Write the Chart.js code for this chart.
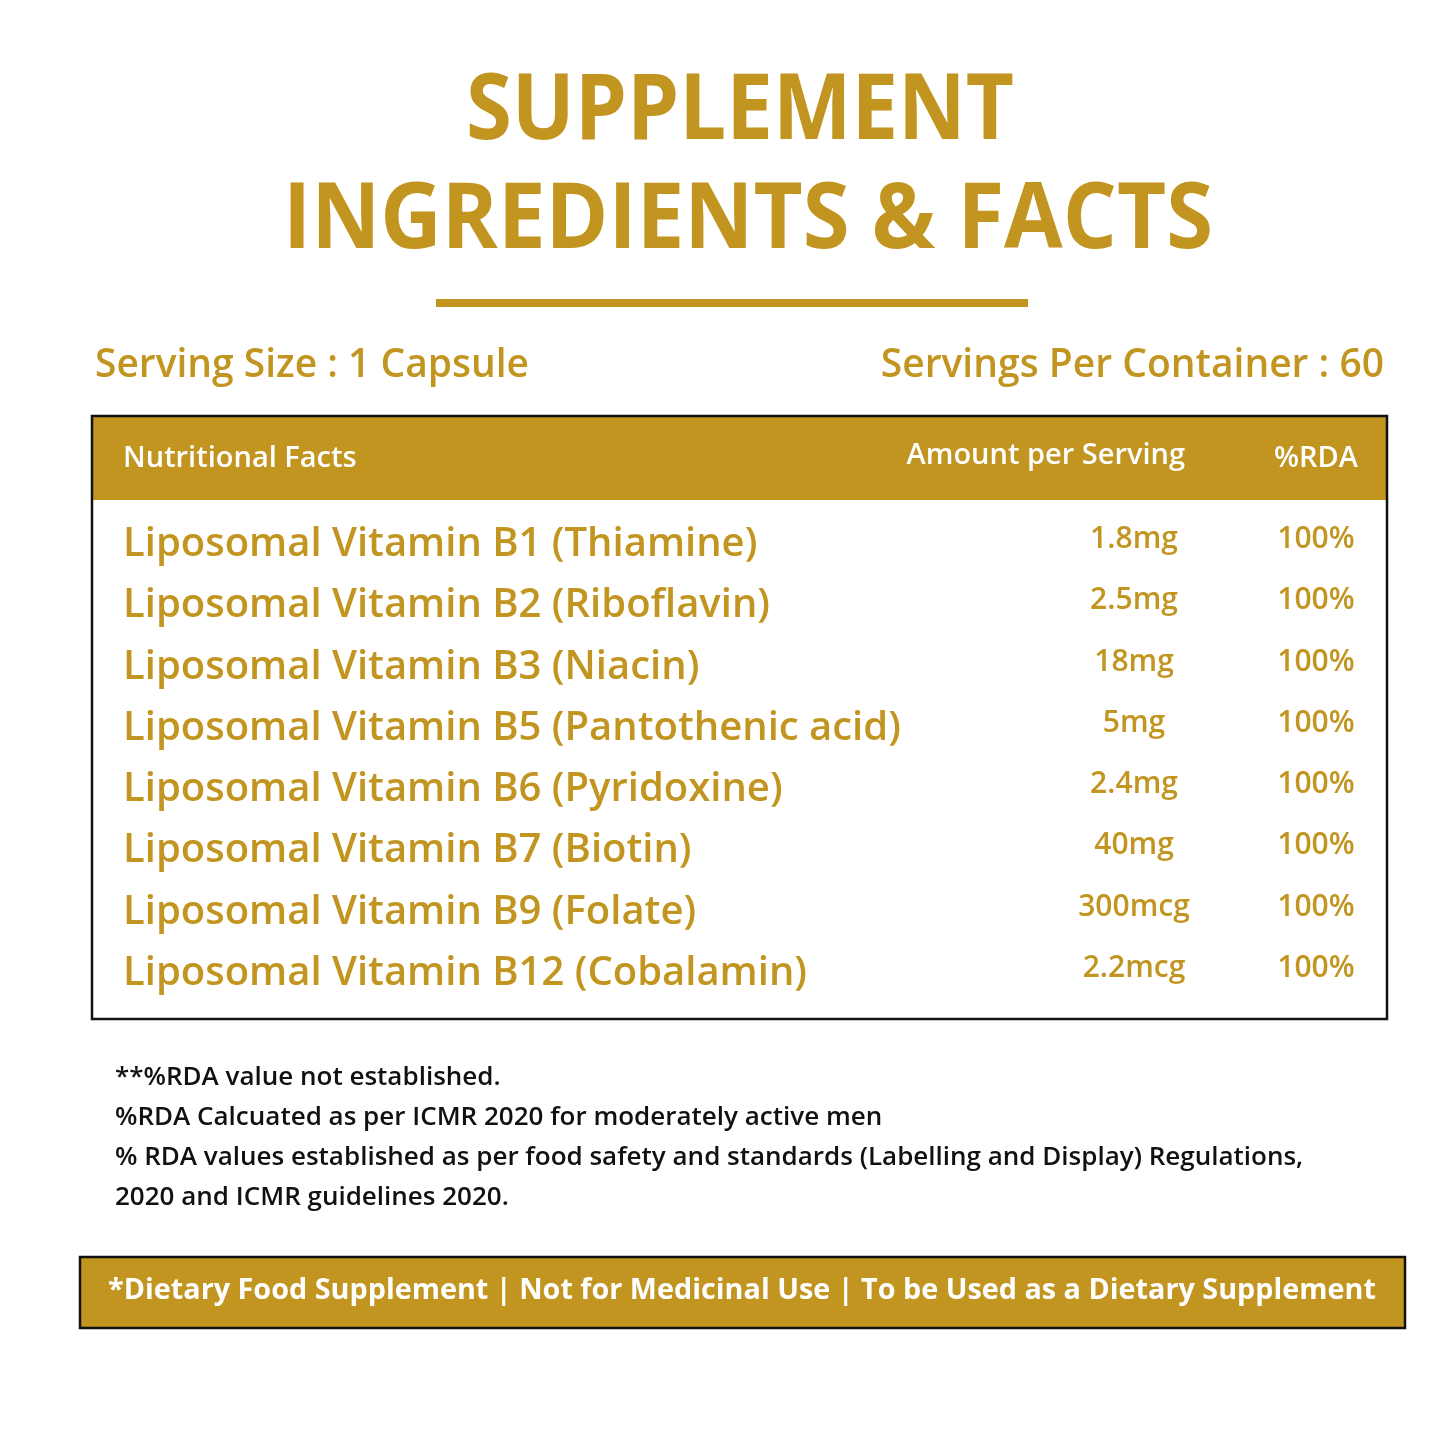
<!DOCTYPE html>
<html>
<head>
<meta charset="utf-8">
<script src="https://cdn.jsdelivr.net/npm/chart.js@4"></script>
<style>
  html, body { margin: 0; padding: 0; background: #fff; }
  #wrap { width: 1445px; height: 1445px; position: relative; }
</style>
</head>
<body>
<div id="wrap"><canvas id="miGrafico"></canvas></div>
<script>
const ingredientes = [
  'Liposomal Vitamin B1 (Thiamine)',
  'Liposomal Vitamin B2 (Riboflavin)',
  'Liposomal Vitamin B3 (Niacin)',
  'Liposomal Vitamin B5 (Pantothenic acid)',
  'Liposomal Vitamin B6 (Pyridoxine)',
  'Liposomal Vitamin B7 (Biotin)',
  'Liposomal Vitamin B9 (Folate)',
  'Liposomal Vitamin B12 (Cobalamin)'
];
const cantidades = ['1.8mg', '2.5mg', '18mg', '5mg', '2.4mg', '40mg', '300mcg', '2.2mcg'];
const rda = [100, 100, 100, 100, 100, 100, 100, 100];
const notas = [
  '**%RDA value not established.',
  '%RDA Calcuated as per ICMR 2020 for moderately active men',
  '% RDA values established as per food safety and standards (Labelling and Display) Regulations,',
  '2020 and ICMR guidelines 2020.'
];

const ORO = '#C1951F';
const FUENTE = '"Open Sans", Lato, sans-serif';

const etiqueta = {
  id: 'etiqueta',
  afterDraw(chart) {
    const c = chart.ctx;
    const y = chart.scales.y;
    c.save();
    c.textBaseline = 'middle';

    // titulo
    c.fillStyle = ORO;
    c.textAlign = 'center';
    c.font = '700 92px ' + FUENTE;
    c.fillText('SUPPLEMENT', 740, 113, 548);
    c.fillText('INGREDIENTS & FACTS', 748, 222, 930);
    c.fillRect(436, 299, 592, 8);

    // porciones
    c.font = '600 39px ' + FUENTE;
    c.textAlign = 'left';
    c.fillText('Serving Size : 1 Capsule', 95, 366, 434);
    c.textAlign = 'right';
    c.fillText('Servings Per Container : 60', 1384, 366, 514);

    // cabecera
    c.fillStyle = ORO;
    c.fillRect(92, 416, 1295, 84);
    c.fillStyle = '#fff';
    c.font = '600 29px ' + FUENTE;
    c.textAlign = 'left';
    c.fillText('Nutritional Facts', 123, 459, 255);
    c.textAlign = 'right';
    c.fillText('Amount per Serving', 1185, 456, 310);
    c.fillText('%RDA', 1358, 459, 86);

    // filas
    ingredientes.forEach((nombre, i) => {
      const py = y.getPixelForValue(i);
      c.fillStyle = ORO;
      c.textAlign = 'left';
      c.font = '600 40px ' + FUENTE;
      c.fillText(nombre, 123, py + 2);
      c.textAlign = 'center';
      c.font = '600 30px ' + FUENTE;
      c.fillText(cantidades[i], 1134, py - 3);
      c.fillText(rda[i] + '%', 1316, py - 3);
    });

    // borde
    c.strokeStyle = '#111';
    c.lineWidth = 2.5;
    c.strokeRect(92, 416, 1295, 603);

    // notas
    c.fillStyle = '#111';
    c.textAlign = 'left';
    c.font = '600 26px ' + FUENTE;
    notas.forEach((t, i) => {
      c.fillText(t, 115, 1078 + i * 40, i === 2 ? 1285 : undefined);
    });

    // banda final
    c.fillStyle = ORO;
    c.fillRect(80, 1257, 1325, 71);
    c.strokeRect(80, 1257, 1325, 71);
    c.fillStyle = '#fff';
    c.textAlign = 'center';
    c.font = '700 29px ' + FUENTE;
    c.fillText('*Dietary Food Supplement | Not for Medicinal Use | To be Used as a Dietary Supplement', 742, 1291, 1268);
    c.restore();
  }
};

const ctx = document.getElementById('miGrafico').getContext('2d');
new Chart(ctx, {
  type: 'bar',
  data: {
    labels: ingredientes,
    datasets: [{ label: '%RDA', data: rda.map(() => 0), backgroundColor: 'rgba(0,0,0,0)' }]
  },
  options: {
    indexAxis: 'y',
    responsive: true,
    maintainAspectRatio: false,
    animation: false,
    layout: { padding: { top: 512, bottom: 443, left: 92, right: 58 } },
    plugins: { legend: { display: false }, tooltip: { enabled: false } },
    scales: {
      x: { display: false, min: 0, max: 100 },
      y: { display: false }
    }
  },
  plugins: [etiqueta]
});
</script>
</body>
</html>
